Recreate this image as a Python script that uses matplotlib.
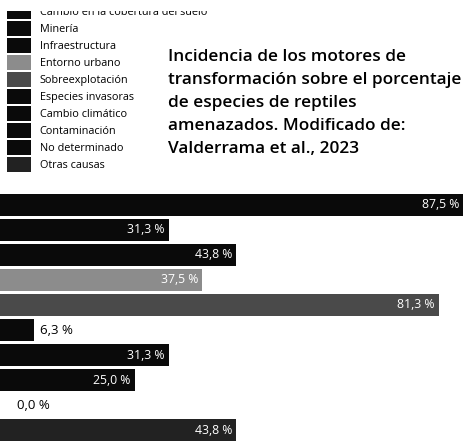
import matplotlib
matplotlib.use("Agg")
import matplotlib.pyplot as plt
from matplotlib.transforms import Bbox, TransformedBbox, IdentityTransform

categories = ["Cambio en la cobertura del suelo", "Minería", "Infraestructura",
              "Entorno urbano", "Sobreexplotación", "Especies invasoras",
              "Cambio climático", "Contaminación", "No determinado", "Otras causas"]
values = [87.5, 31.3, 43.8, 37.5, 81.3, 6.3, 31.3, 25.0, 0.0, 43.8]
labels = ["87,5 %", "31,3 %", "43,8 %", "37,5 %", "81,3 %", "6,3 %",
          "31,3 %", "25,0 %", "0,0 %", "43,8 %"]
colors = ["#0a0a0a", "#0a0a0a", "#0a0a0a", "#8c8c8c", "#4a4a4a", "#0a0a0a",
          "#0a0a0a", "#0a0a0a", "#0a0a0a", "#222222"]
title = ("Incidencia de los motores de\ntransformación sobre el porcentaje\n"
         "de especies de reptiles\namenazados. Modificado de:\nValderrama et al., 2023")

W, H = 464, 447
fig = plt.figure(figsize=(W / 100, H / 100), dpi=100)
fig.patch.set_facecolor("white")

ax = fig.add_axes([0, 4 / H, 1, (443 - 192) / H])
ypos = list(range(len(values)))
bars = ax.barh(ypos, values, height=0.88, color=colors, edgecolor="none")
xmax = 86
ax.set_xlim(0, xmax)
ax.set_ylim(len(values) - 0.5, -0.5)
ax.axis("off")

for y, v, lab in zip(ypos, values, labels):
    if v < 10:
        off = 12 if v == 0 else 4
        ax.annotate(lab, (v, y), xytext=(off, 0), textcoords="offset points",
                    ha="left", va="center", fontsize=9.5, color="black",
                    family="Open Sans")
    else:
        ax.annotate(lab, (min(v, xmax), y), xytext=(-3, 0), textcoords="offset points",
                    ha="right", va="center", fontsize=8.8, color="white",
                    family="Open Sans")

leg = fig.legend(bars.patches, categories, loc="upper left",
                 bbox_to_anchor=(7 / W, 1 - 4 / H), frameon=False,
                 prop={"family": "Open Sans", "size": 7.8},
                 borderpad=0, borderaxespad=0, handlelength=2.2, handleheight=1.754,
                 handletextpad=0.83, labelspacing=0.185)
clip = TransformedBbox(Bbox.from_extents(0, 0, W, H - 11), IdentityTransform())
for t in leg.get_texts():
    t.set_clip_box(clip)
    t.set_clip_on(True)
for h in leg.legend_handles:
    h.set_clip_box(clip)
    h.set_clip_on(True)

fig.text(168 / W, 1 - 49 / H, title, ha="left", va="top", fontsize=12.4,
         family="Open Sans", fontweight="semibold", linespacing=1.58, color="black")

fig.savefig("out.png", dpi=100, facecolor="white")
